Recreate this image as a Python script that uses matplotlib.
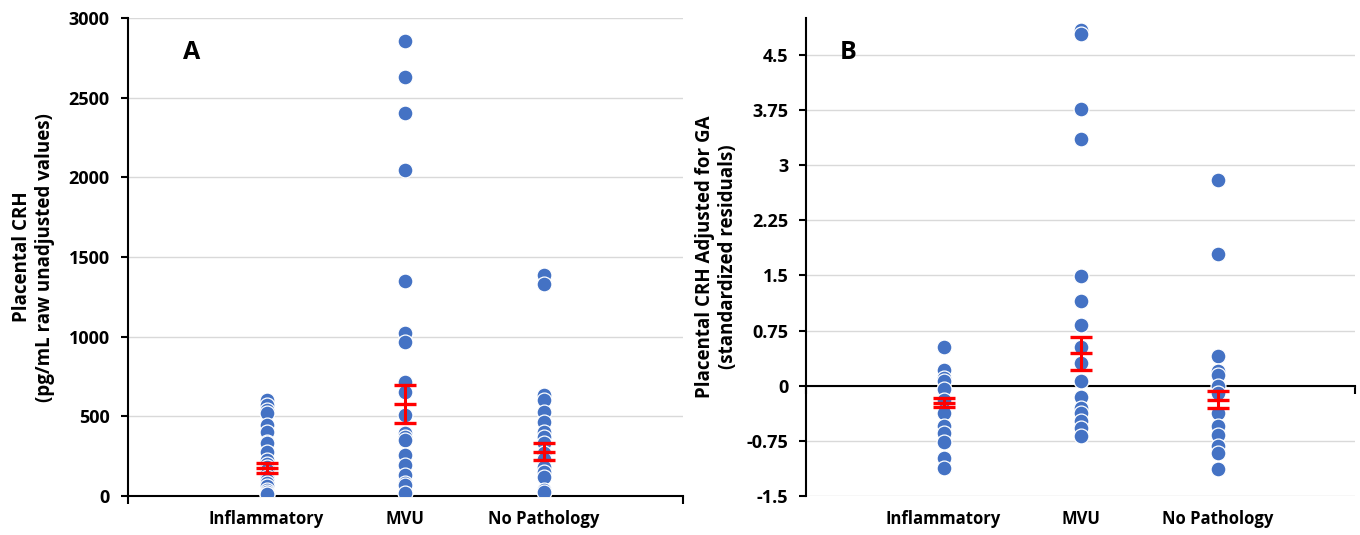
import matplotlib
matplotlib.use("Agg")
import matplotlib.pyplot as plt

plt.rcParams['font.family'] = ['Open Sans', 'DejaVu Sans']
plt.rcParams['font.weight'] = 'bold'

# categories
groups = ['Inflammatory', 'MVU', 'No Pathology']
group_x = [1, 2, 3]

# panel A: raw values (pg/mL)
infl_raw = [602, 571, 540, 521, 445, 401, 339, 330, 276, 226, 200, 180, 160,
            140, 119, 100, 80, 60, 40, 25, 15, 10]
mvu_raw = [2857, 2631, 2405, 2045, 1350, 1023, 966, 717, 654, 508, 395, 370,
           351, 257, 194, 132, 82, 70, 19]
nopath_raw = [1386, 1334, 634, 602, 529, 466, 403, 372, 330, 270, 230, 184,
              150, 121, 40, 27]
means_raw = [176, 577, 278]
se_raw = [32, 120, 52]

# panel B: standardized residuals adjusted for GA
infl_adj = [0.53, 0.22, 0.10, 0.06, -0.05, -0.20, -0.37, -0.55, -0.64, -0.76,
            -0.98, -1.12]
mvu_adj = [4.84, 4.79, 3.77, 3.35, 1.49, 1.15, 0.83, 0.53, 0.31, 0.06, -0.15,
           -0.30, -0.37, -0.48, -0.57, -0.69]
nopath_adj = [2.80, 1.79, 0.40, 0.20, 0.15, -0.01, -0.10, -0.37, -0.55, -0.67,
              -0.82, -0.91, -1.14]
means_adj = [-0.23, 0.44, -0.19]
se_adj = [0.065, 0.225, 0.12]

dot_color = '#4472C4'
grid_color = '#D9D9D9'


def draw_panel(ax, series, means, ses):
    for x, vals in zip(group_x, series):
        ax.scatter([x] * len(vals), vals, s=115, color=dot_color,
                   edgecolor='white', linewidth=0.9, zorder=3)
    ax.errorbar(group_x, means, yerr=ses, fmt='_', color='#FF0000',
                markersize=16, markeredgewidth=2.4, elinewidth=2.2,
                capsize=8, capthick=2.4, zorder=4)
    ax.set_xlim(0, 4)
    ax.grid(axis='y', color=grid_color, linewidth=1)
    ax.set_axisbelow(True)
    for side in ['top', 'right']:
        ax.spines[side].set_visible(False)
    ax.spines['left'].set_linewidth(1.5)
    ax.spines['bottom'].set_linewidth(1.5)
    ax.tick_params(axis='y', direction='out', length=5, width=1.5,
                   labelsize=13, pad=8)
    ax.set_xticks([0, 4])
    ax.set_xticklabels([])
    ax.tick_params(axis='x', direction='out', length=6, width=1.5)
    for x, g in zip(group_x, groups):
        ax.text(x, -0.03, g, transform=ax.get_xaxis_transform(),
                ha='center', va='top', fontsize=12, fontweight='bold')


fig = plt.figure(figsize=(13.6, 5.35), dpi=100)

# panel A
axA = fig.add_axes([0.094, 0.073, 0.408, 0.893])
draw_panel(axA, [infl_raw, mvu_raw, nopath_raw], means_raw, se_raw)
axA.set_ylim(0, 3000)
axA.set_yticks(range(0, 3001, 500))
axA.set_yticklabels([str(v) for v in range(0, 3001, 500)], fontweight='bold')
axA.set_ylabel('Placental CRH\n(pg/mL raw unadjusted values)',
               fontsize=13.5, fontweight='bold', labelpad=10)
axA.text(0.1, 0.955, 'A', transform=axA.transAxes, fontsize=18,
         fontweight='bold', va='top', ha='left')

# panel B
axB = fig.add_axes([0.593, 0.073, 0.403, 0.893])
draw_panel(axB, [infl_adj, mvu_adj, nopath_adj], means_adj, se_adj)
axB.set_ylim(-1.5, 5.0)
yt = [-1.5, -0.75, 0, 0.75, 1.5, 2.25, 3, 3.75, 4.5]
axB.set_yticks(yt)
axB.set_yticklabels(['-1.5', '-0.75', '0', '0.75', '1.5', '2.25', '3',
                     '3.75', '4.5'], fontweight='bold')
axB.spines['bottom'].set_position(('data', 0))
axB.set_ylabel('Placental CRH Adjusted for GA\n(standardized residuals)',
               fontsize=13.5, fontweight='bold', labelpad=6)
axB.text(0.06, 0.955, 'B', transform=axB.transAxes, fontsize=18,
         fontweight='bold', va='top', ha='left')

fig.savefig('out.png', dpi=100, facecolor='white')
